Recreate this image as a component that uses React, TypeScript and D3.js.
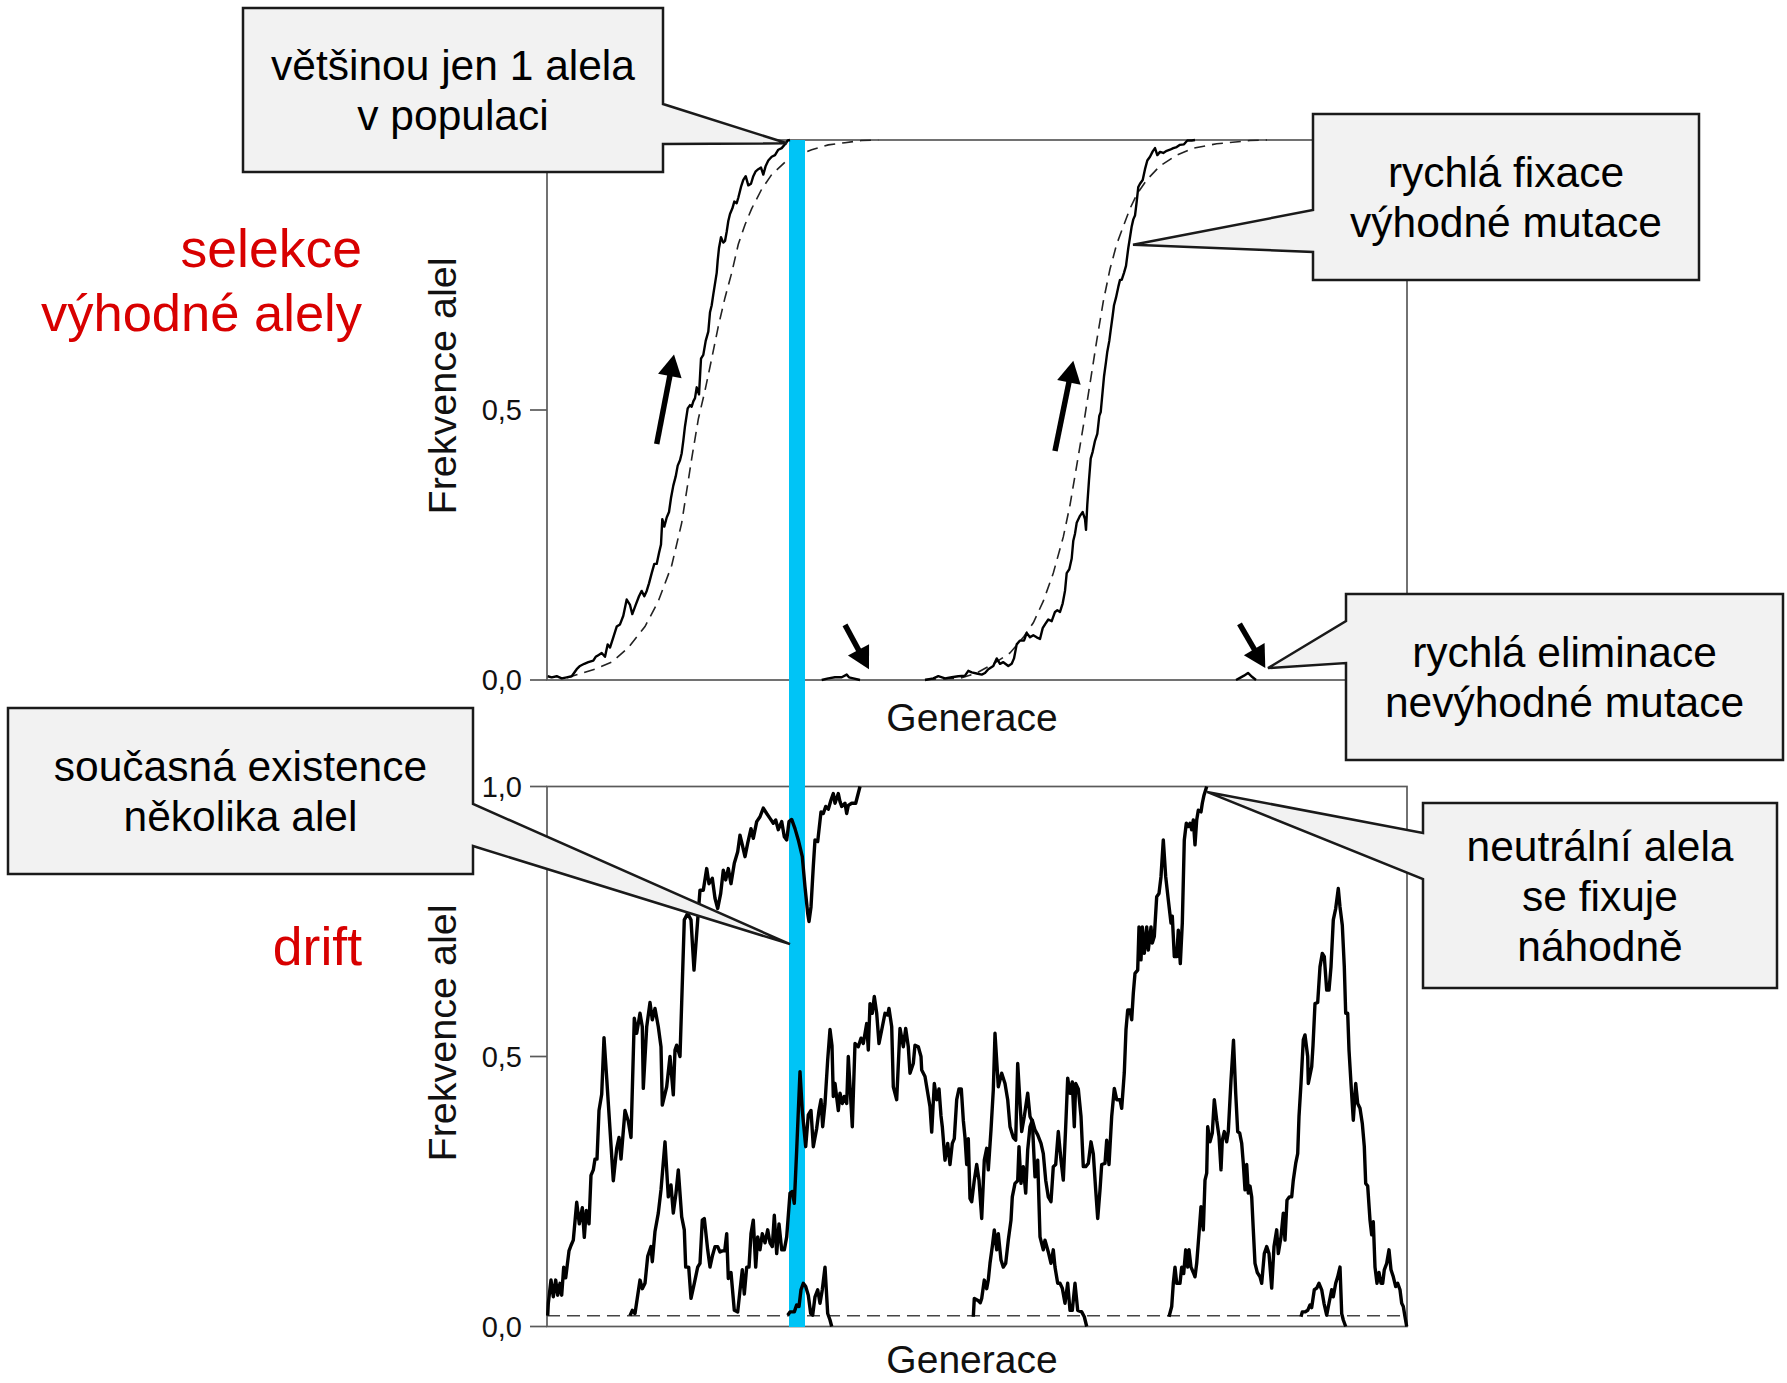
import * as d3 from "d3";

// x = generace (0..860), y = frekvence alely (0..1)
const genDomain: [number, number] = [0, 860];
const freqTicksTop = [0, 0.5];
const freqTicksBottom = [0, 0.5, 1];

// ---- horní panel: selekce výhodné alely ----
const sweepObserved1 = [
  [0.7, 0.007], [4.7, 0.005], [9.7, 0.007], [14.7, 0.003], [19.7, 0.005], [24.7, 0.007], [29.7, 0.02], [33, 0.026],
  [37.3, 0.03], [41.3, 0.033], [46.3, 0.036], [48.7, 0.043], [51.3, 0.046], [54.7, 0.05], [58, 0.043], [60.7, 0.066],
  [63, 0.06], [66.3, 0.079], [69.7, 0.099], [73, 0.103], [76.3, 0.119], [79.7, 0.149], [83, 0.139], [85.3, 0.122],
  [88.7, 0.139], [92, 0.155], [94.7, 0.165], [97.3, 0.155], [99.7, 0.165], [102, 0.179], [104.7, 0.198], [107.3, 0.215],
  [109.7, 0.215], [112, 0.235], [114, 0.251], [115.3, 0.298], [117.3, 0.284], [119.7, 0.301], [122, 0.311], [124, 0.337],
  [126.3, 0.36], [128.7, 0.377], [130.7, 0.397], [133, 0.407], [134.7, 0.42], [136.3, 0.443], [138, 0.47], [140.7, 0.503],
  [143, 0.509], [144.7, 0.506], [146.3, 0.516], [148, 0.522], [149.7, 0.542], [152, 0.529], [154, 0.595], [156.3, 0.602],
  [158.7, 0.628], [161.3, 0.645], [163, 0.681], [164.7, 0.694], [166.3, 0.714], [168, 0.734], [169.7, 0.754], [170.7, 0.777],
  [172, 0.8], [174, 0.82], [176.3, 0.81], [178, 0.813], [179.7, 0.83], [181.3, 0.85], [183, 0.863], [185.3, 0.873],
  [187.3, 0.886], [189.7, 0.883], [191.3, 0.893], [194, 0.913], [196.3, 0.926], [198.7, 0.933], [201.3, 0.916], [204, 0.919],
  [206.3, 0.933], [208.7, 0.942], [211.3, 0.946], [214, 0.949], [216.3, 0.936], [218.7, 0.952], [221.3, 0.962], [224.7, 0.969],
  [228, 0.972], [231.3, 0.982], [234.7, 0.985], [238, 0.992], [240.7, 0.999], [243, 1.0],
];
const sweepExpected1 = [
  [20, 0.004], [24.7, 0.007], [48, 0.02], [64.7, 0.033], [81.3, 0.06], [98, 0.099], [111.3, 0.146], [124.7, 0.212],
  [134.7, 0.291], [144.7, 0.41], [151.3, 0.483], [158, 0.536], [164.7, 0.595], [171.3, 0.655], [178, 0.708], [184.7, 0.754],
  [191.3, 0.807], [198, 0.843], [204.7, 0.873], [214.7, 0.909], [224.7, 0.936], [238, 0.959], [251.3, 0.972], [264.7, 0.982],
  [281.3, 0.991], [298, 0.995], [314.7, 0.999], [331.3, 1.0],
];
const lostMutation1 = [
  [274.7, 0], [281.3, 0.003], [288, 0.005], [294.7, 0.005], [299.7, 0.01], [302, 0.005], [306.3, 0.003], [313, 0],
];
const sweepObserved2 = [
  [378, 0], [386.3, 0.003], [391.3, 0.007], [398, 0.003], [404.7, 0.005], [411.3, 0.007], [418, 0.008], [421.3, 0.017],
  [424.7, 0.014], [429.7, 0.012], [434.7, 0.01], [438, 0.013], [441.3, 0.02], [446.3, 0.026], [449.7, 0.04], [453, 0.03],
  [456.3, 0.033], [461.3, 0.026], [464.7, 0.03], [467, 0.04], [469.7, 0.066], [473, 0.073], [477, 0.073], [479.7, 0.087],
  [483, 0.079], [486.3, 0.083], [489.7, 0.079], [493, 0.076], [495.7, 0.096], [498, 0.103], [501.3, 0.112], [504.7, 0.109],
  [508, 0.126], [510.3, 0.129], [513, 0.126], [515.7, 0.142], [518, 0.165], [519.7, 0.198], [522.3, 0.205], [524.7, 0.225],
  [526.3, 0.258], [528, 0.271], [529.7, 0.291], [533, 0.304], [535.7, 0.311], [538, 0.298], [539, 0.278], [540.3, 0.325],
  [542, 0.37], [543.7, 0.41], [545.7, 0.423], [548, 0.443], [550.3, 0.456], [552.3, 0.489], [553.7, 0.496], [555.7, 0.536],
  [557, 0.562], [559, 0.589], [560.3, 0.608], [562.3, 0.628], [563.7, 0.648], [565.7, 0.675], [567, 0.694], [569, 0.708],
  [571.3, 0.728], [573, 0.741], [574.7, 0.741], [577, 0.754], [579, 0.767], [581.3, 0.8], [583, 0.82], [584.7, 0.84],
  [586.3, 0.853], [588, 0.86], [589.7, 0.886], [591.3, 0.913], [593, 0.919], [595.7, 0.926], [598, 0.946], [600.3, 0.962],
  [603, 0.969], [605.7, 0.979], [608, 0.985], [610.3, 0.972], [613, 0.978], [616.3, 0.976], [619.7, 0.98], [623, 0.982],
  [626.3, 0.985], [629.7, 0.987], [633, 0.991], [637, 0.992], [640.3, 0.999], [644.7, 0.999], [648, 1.0],
];
const sweepExpected2 = [
  [378, 0.001], [413, 0.003], [429.7, 0.013], [446.3, 0.03], [463, 0.05], [476.3, 0.079], [486.3, 0.106], [496.3, 0.146],
  [506.3, 0.198], [516.3, 0.265], [523, 0.324], [529.7, 0.397], [536.3, 0.47], [543, 0.549], [549.7, 0.628], [556.3, 0.701],
  [563, 0.761], [569.7, 0.807], [576.3, 0.84], [583, 0.873], [589.7, 0.899], [599.7, 0.926], [613, 0.952], [629.7, 0.972],
  [646.3, 0.985], [669.7, 0.993], [703, 0.999], [720, 1.0],
];
const lostMutation2 = [
  [689, 0], [693, 0.004], [697, 0.008], [701, 0.013], [705, 0.006], [709, 0],
];

// ---- dolní panel: drift ----
const driftA = [
  [0.7, 0.02], [1.3, 0.043], [4, 0.086], [6.3, 0.055], [8.7, 0.086], [10.7, 0.058], [13, 0.08], [14.7, 0.058],
  [16.7, 0.11], [18.7, 0.09], [22, 0.14], [24, 0.15], [26.3, 0.16], [29.7, 0.23], [32.3, 0.19], [35.3, 0.22],
  [37.3, 0.165], [39.3, 0.215], [42, 0.19], [44, 0.28], [46.3, 0.29], [48, 0.31], [50, 0.31], [52, 0.4],
  [54.7, 0.43], [57, 0.535], [59.7, 0.46], [66.3, 0.27], [69.7, 0.33], [72, 0.35], [74, 0.31], [78, 0.4],
  [81.3, 0.38], [84, 0.35], [87.3, 0.571], [89.7, 0.543], [93, 0.58], [95.3, 0.555], [96.3, 0.441], [99.7, 0.555],
  [103, 0.6], [105.3, 0.568], [108, 0.589], [111.3, 0.555], [114, 0.518], [115.3, 0.41], [119.7, 0.444], [123, 0.5],
  [126.3, 0.429], [128, 0.512], [129.7, 0.521], [133, 0.5], [137.3, 0.753], [140.7, 0.765], [144, 0.753], [147, 0.66],
  [150.7, 0.753], [153, 0.808], [156.3, 0.808], [159.7, 0.848], [162, 0.82], [165.3, 0.83], [168, 0.793], [170.7, 0.774],
  [173.7, 0.802], [176.3, 0.845], [178.7, 0.827], [181.3, 0.848], [184, 0.82], [187.3, 0.858], [190.7, 0.879], [193, 0.91],
  [195.3, 0.892], [198, 0.87], [200.7, 0.895], [204, 0.922], [206.3, 0.904], [209.7, 0.935], [213, 0.944], [216.3, 0.96],
  [219.7, 0.95], [223, 0.941], [226.3, 0.932], [228.7, 0.938], [231.3, 0.92], [234.7, 0.935], [237.3, 0.907], [239.7, 0.901],
  [242, 0.935], [244.7, 0.939], [248, 0.922], [251.3, 0.901], [255.3, 0.87], [258, 0.814], [260.7, 0.765], [262, 0.75],
  [264, 0.777], [266.3, 0.852], [268, 0.901], [270.7, 0.898], [274, 0.953], [276.3, 0.95], [278.7, 0.963], [281.3, 0.958],
  [284, 0.975], [286.3, 0.987], [288, 0.969], [291.3, 0.987], [293, 0.972], [294.7, 0.963], [298, 0.969], [299.7, 0.95],
  [301.3, 0.965], [304.7, 0.969], [308.7, 0.969], [313, 1.0],
];
const driftB = [
  [83, 0.02], [85.3, 0.03], [88, 0.024], [93, 0.086], [95.3, 0.07], [98, 0.08], [100.7, 0.13], [104, 0.148],
  [105.3, 0.12], [108, 0.176], [111.3, 0.21], [114, 0.253], [118, 0.342], [121.3, 0.24], [124, 0.262], [126.3, 0.21],
  [129, 0.247], [131.3, 0.29], [134.7, 0.203], [137.3, 0.179], [138.7, 0.11], [141.7, 0.11], [144, 0.052], [147.3, 0.08],
  [150.7, 0.11], [153, 0.117], [155.3, 0.197], [157.3, 0.2], [160.7, 0.142], [163, 0.11], [165.3, 0.13], [168, 0.148],
  [170.7, 0.148], [173, 0.138], [175.3, 0.14], [177.7, 0.14], [179.7, 0.172], [181.3, 0.089], [184, 0.1], [187.3, 0.03],
  [190.7, 0.027], [193, 0.067], [195.3, 0.105], [197.3, 0.06], [199.7, 0.11], [202, 0.11], [204, 0.172], [206.3, 0.197],
  [208.7, 0.11], [210.7, 0.166], [213, 0.142], [215.3, 0.172], [218, 0.155], [220.7, 0.179], [223, 0.155], [225.3, 0.148],
  [227.3, 0.206], [229.7, 0.135], [232, 0.19], [234.7, 0.142], [237.3, 0.142], [239.7, 0.166], [243, 0.247], [245.3, 0.25],
  [247.3, 0.228], [249.7, 0.327], [253, 0.472], [255.3, 0.4], [258.7, 0.333], [261.3, 0.392], [264, 0.4], [266.3, 0.333],
  [269.7, 0.367], [272, 0.4], [274, 0.42], [275.7, 0.37], [278, 0.413], [280.7, 0.494], [283, 0.55], [285, 0.52],
  [286.3, 0.426], [288, 0.45], [291.3, 0.4], [293, 0.432], [295.3, 0.413], [297.3, 0.426], [299.7, 0.413], [301.3, 0.5],
  [305.3, 0.37], [308, 0.524], [311.3, 0.518], [314, 0.534], [316.3, 0.524], [319.7, 0.561], [321.3, 0.512], [323, 0.598],
  [325.3, 0.58], [327.3, 0.611], [329.7, 0.58], [332, 0.524], [334.7, 0.549], [338, 0.58], [340.7, 0.577], [342, 0.589],
  [344.7, 0.555], [346.3, 0.444], [349.7, 0.42], [353, 0.552], [356.3, 0.518], [358.7, 0.552], [361.3, 0.518], [363, 0.469],
  [366.3, 0.487], [368, 0.521], [371.3, 0.518], [374, 0.5], [374.7, 0.475], [378, 0.463], [383, 0.407], [384.7, 0.36],
  [387.3, 0.45], [389.7, 0.42], [392, 0.44], [394, 0.39], [395.3, 0.37], [398, 0.308], [400.7, 0.339], [403, 0.3],
  [405.3, 0.339], [407.3, 0.348], [409.7, 0.42], [412, 0.44], [414.3, 0.44], [416.3, 0.382], [418, 0.35], [419.7, 0.3],
  [421.3, 0.348], [423, 0.237], [424.7, 0.231], [427.3, 0.271], [429.7, 0.3], [432, 0.271], [434.7, 0.2], [437.3, 0.308],
  [439.7, 0.33], [441.3, 0.29], [444, 0.364], [446.3, 0.438], [448, 0.543], [451.3, 0.444], [454.7, 0.469], [458, 0.45],
  [460.7, 0.42], [463, 0.37], [466.3, 0.35], [468.7, 0.345], [470.7, 0.487], [474.7, 0.361], [477.3, 0.389], [480.7, 0.432],
  [483, 0.389], [485.3, 0.38], [488, 0.277], [490.7, 0.308], [493, 0.166], [496.3, 0.142], [498, 0.16], [501.3, 0.138],
  [504, 0.117], [506.3, 0.142], [508, 0.11], [510.7, 0.08], [513, 0.08], [515.3, 0.071], [518, 0.043], [520.7, 0.08],
  [523, 0.03], [525.3, 0.03], [528, 0.08], [530.7, 0.03], [534.7, 0.027], [537.3, 0.018], [539.7, 0],
];
const driftC = [
  [426.3, 0.018], [427.3, 0.052], [431, 0.048], [433.3, 0.044], [434.7, 0.052], [437.3, 0.086], [439.7, 0.07], [441.3, 0.086],
  [443, 0.117], [445.3, 0.148], [447.3, 0.179], [449.7, 0.142], [451.3, 0.172], [454, 0.123], [456.3, 0.11], [458.7, 0.117],
  [461.3, 0.16], [464, 0.197], [465.3, 0.24], [468, 0.265], [470.7, 0.27], [472, 0.333], [474, 0.265], [476.3, 0.296],
  [478.7, 0.247], [480.7, 0.327], [483, 0.37], [485.3, 0.382], [488, 0.364], [490.7, 0.355], [494, 0.339], [496.3, 0.32],
  [498.7, 0.271], [501.3, 0.24], [504, 0.231], [506.3, 0.296], [508.7, 0.3], [511.3, 0.361], [514, 0.308], [516.3, 0.271],
  [518.7, 0.37], [520.7, 0.46], [523, 0.432], [525.3, 0.453], [527.3, 0.37], [528.7, 0.45], [531.3, 0.44], [534, 0.389],
  [536.3, 0.296], [538.7, 0.296], [541.3, 0.302], [544, 0.342], [546.3, 0.32], [548.7, 0.253], [550.7, 0.2], [553, 0.253],
  [554.7, 0.3], [558, 0.302], [559.7, 0.345], [562, 0.3], [564.7, 0.389], [567.3, 0.441], [569.7, 0.42], [573, 0.42],
  [574.7, 0.404], [577.3, 0.47], [579, 0.55], [580.7, 0.586], [583, 0.586], [584.7, 0.568], [586.3, 0.617], [588, 0.654],
  [590.7, 0.66], [592, 0.74], [594, 0.679], [595.3, 0.74], [597.3, 0.691], [599.7, 0.74], [601.3, 0.697], [604, 0.74],
  [605.3, 0.71], [607.3, 0.722], [609.7, 0.796], [612, 0.802], [614, 0.833], [616.3, 0.901], [618.7, 0.833], [621.3, 0.79],
  [624, 0.747], [625.3, 0.76], [627.3, 0.685], [629.7, 0.685], [631.3, 0.734], [633.3, 0.672], [635.3, 0.747], [637.3, 0.901],
  [639.3, 0.932], [641.3, 0.926], [643, 0.932], [644.7, 0.92], [646.3, 0.938], [648, 0.892], [649.7, 0.938], [651.3, 0.956],
  [654, 0.953], [655.3, 0.969], [657, 0.984], [659.7, 1.0],
];
const driftD = [
  [622, 0.018], [624.7, 0.037], [626.3, 0.08], [628, 0.11], [629.7, 0.08], [633, 0.08], [634.7, 0.11], [636.7, 0.098],
  [638.7, 0.142], [640.7, 0.11], [642, 0.142], [644, 0.11], [646.3, 0.1], [648, 0.092], [649.7, 0.117], [652, 0.172],
  [654, 0.222], [656.3, 0.179], [658, 0.271], [659.7, 0.284], [660.7, 0.37], [663, 0.342], [665.3, 0.358], [667.3, 0.42],
  [669.7, 0.382], [672, 0.352], [674, 0.29], [675.3, 0.345], [677.3, 0.361], [679.7, 0.342], [681.3, 0.361], [684, 0.456],
  [686.5, 0.53], [688.7, 0.432], [690.7, 0.361], [692.7, 0.358], [694.7, 0.339], [696.3, 0.302], [698, 0.253], [699.7, 0.3],
  [701.3, 0.247], [703, 0.26], [704.7, 0.24], [706.3, 0.179], [708, 0.117], [710.3, 0.1], [713, 0.092], [714.7, 0.08],
  [717.3, 0.135], [719.7, 0.148], [722, 0.135], [724.7, 0.071], [727, 0.148], [729.7, 0.179], [731.3, 0.135], [734, 0.166],
  [736.3, 0.21], [738, 0.16], [740, 0.234], [742.3, 0.24], [744.7, 0.24], [746.3, 0.271], [748.7, 0.302], [750.7, 0.32],
  [752, 0.389], [754, 0.45], [756.3, 0.531], [758, 0.54], [760.7, 0.5], [761.3, 0.45], [764.7, 0.481], [766, 0.52],
  [768, 0.598], [770.7, 0.6], [773, 0.666], [775.3, 0.691], [777.3, 0.685], [779.7, 0.623], [782, 0.623], [784, 0.666],
  [786.3, 0.753], [788.7, 0.774], [791.3, 0.811], [793, 0.777], [795.3, 0.743], [797.3, 0.666], [798.7, 0.58], [800.7, 0.58],
  [802, 0.512], [804, 0.45], [806.3, 0.382], [808.7, 0.45], [810.7, 0.413], [813, 0.404], [815.3, 0.376], [817.3, 0.333],
  [818.7, 0.265], [820.7, 0.26], [823, 0.197], [824.7, 0.17], [826.3, 0.194], [828, 0.11], [830, 0.08], [832, 0.1],
  [834, 0.08], [835.7, 0.08], [837.3, 0.105], [839.7, 0.117], [842, 0.142], [844, 0.105], [846.3, 0.092], [848.7, 0.074],
  [850.7, 0.08], [853, 0.068], [854.7, 0.043], [856.3, 0.037], [858, 0.018], [859.7, 0],
];
const driftE = [
  [754, 0.018], [755.3, 0.027], [758, 0.027], [760.7, 0.03], [763, 0.04], [764.7, 0.035], [767.3, 0.068], [769.7, 0.071],
  [772, 0.08], [774.7, 0.068], [777, 0.043], [779.7, 0.021], [782, 0.043], [784.7, 0.068], [786.3, 0.055], [788.7, 0.08],
  [790.7, 0.092], [793, 0.11], [794.7, 0.024], [796.3, 0.012], [798.7, 0],
];
const driftF = [
  [240.7, 0.021], [243, 0.027], [247.3, 0.027], [249.7, 0.04], [252, 0.037], [254, 0.068], [256.3, 0.08], [258.7, 0.074],
  [261.3, 0.058], [263.7, 0.024], [265.7, 0.021], [268, 0.055], [270.7, 0.068], [273, 0.043], [275.3, 0.068], [278, 0.11],
  [280.7, 0.024], [283, 0.012], [284.7, 0],
];
const newMutationLevel = 0.02;

// zvýrazněná generace (modrý pruh)
const highlightGens = [242, 258];

// šipky: [generace, frekvence] konce a hrotu
const arrowsTop = [
  { from: [109.7, 0.437], to: [127, 0.603] },
  { from: [508, 0.424], to: [526.3, 0.591] },
  { from: [298, 0.102], to: [322, 0.02] },
  { from: [692.5, 0.104], to: [718.3, 0.022] },
];

const FONT = "'Liberation Sans', Arial, Helvetica, sans-serif";
const fmt = (v: number) => v.toFixed(1).replace(".", ",");

const x = d3.scaleLinear().domain(genDomain).range([547, 1407]);
const yTop = d3.scaleLinear().domain([0, 1]).range([680, 140]);
const yBot = d3.scaleLinear().domain([0, 1]).range([1326.5, 786.5]);

const lineTop = d3.line<number[]>().x((d) => x(d[0])).y((d) => yTop(d[1]));
const lineBot = d3.line<number[]>().x((d) => x(d[0])).y((d) => yBot(d[1]));

// bubliny s popisky (rozložení v pixelech, hrot přes škály)
const callouts = [
  { lines: ["většinou jen 1 alela", "v populaci"], box: [243, 8, 663, 172], side: "right", base: [104, 144], tip: [x(240), yTop(0.994)] },
  { lines: ["rychlá fixace", "výhodné mutace"], box: [1313, 114, 1699, 280], side: "left", base: [210, 252], tip: [x(586), yTop(0.806)] },
  { lines: ["rychlá eliminace", "nevýhodné mutace"], box: [1346, 594, 1783, 760], side: "left", base: [621, 663], tip: [x(721), yTop(0.022)] },
  { lines: ["současná existence", "několika alel"], box: [8, 708, 473, 874], side: "right", base: [804, 846], tip: [x(243), yBot(0.708)] },
  { lines: ["neutrální alela", "se fixuje", "náhodně"], box: [1423, 803, 1777, 988], side: "left", base: [833, 879], tip: [x(660), yBot(0.99)] },
];

function calloutPath(c: any) {
  const [x0, y0, x1, y1] = c.box;
  const [b0, b1] = c.base;
  const [tx, ty] = c.tip;
  const pts =
    c.side === "right"
      ? [[x0, y0], [x1, y0], [x1, b0], [tx, ty], [x1, b1], [x1, y1], [x0, y1]]
      : [[x0, y0], [x1, y0], [x1, y1], [x0, y1], [x0, b1], [tx, ty], [x0, b0]];
  return "M" + pts.map((p) => p.join(",")).join("L") + "Z";
}

function Arrow({ from, to, y }: any) {
  const x0 = x(from[0]), y0 = y(from[1]);
  const x1 = x(to[0]), y1 = y(to[1]);
  const len = Math.hypot(x1 - x0, y1 - y0);
  const ux = (x1 - x0) / len, uy = (y1 - y0) / len;
  const hl = 22, hw = 12;
  const bx = x1 - ux * hl, by = y1 - uy * hl;
  const head = [
    [x1, y1],
    [bx - uy * hw, by + ux * hw],
    [bx + uy * hw, by - ux * hw],
  ];
  return (
    <g>
      <line x1={x0} y1={y0} x2={bx + ux * 2} y2={by + uy * 2} stroke="#000" strokeWidth={5.5} />
      <polygon points={head.map((p) => p.join(",")).join(" ")} fill="#000" />
    </g>
  );
}

function Panel({ y, top, bottom, ticks }: any) {
  return (
    <g>
      <rect x={547} y={top} width={860} height={bottom - top} fill="none" stroke="#5a5a5a" strokeWidth={1.7} />
      {ticks.map((t: number) => (
        <g key={t}>
          <line x1={530} x2={547} y1={y(t)} y2={y(t)} stroke="#5a5a5a" strokeWidth={1.7} />
          <text x={522} y={y(t)} dy="0.36em" textAnchor="end" fontSize={29} fontFamily={FONT} fill="#111">
            {fmt(t)}
          </text>
        </g>
      ))}
    </g>
  );
}

export default function App() {
  return (
    <svg
      width={1787}
      height={1383}
      viewBox="0 0 1787 1383"
      style={{ position: "absolute", left: 0, top: 0, background: "#fff" }}
    >
      <rect width={1787} height={1383} fill="#fff" />

      <Panel y={yTop} top={140} bottom={680} ticks={freqTicksTop} />
      <Panel y={yBot} top={786.5} bottom={1326.5} ticks={freqTicksBottom} />

      {/* popisky os */}
      <text x={972} y={731} textAnchor="middle" fontSize={39} fontFamily={FONT} fill="#111">Generace</text>
      <text x={972} y={1373} textAnchor="middle" fontSize={39} fontFamily={FONT} fill="#111">Generace</text>
      <text transform="translate(456,386) rotate(-90)" textAnchor="middle" fontSize={39.5} fontFamily={FONT} fill="#111">
        Frekvence alel
      </text>
      <text transform="translate(456,1033) rotate(-90)" textAnchor="middle" fontSize={39.5} fontFamily={FONT} fill="#111">
        Frekvence alel
      </text>

      {/* očekávané (deterministické) průběhy */}
      <g fill="none" stroke="#222" strokeWidth={1.6} strokeDasharray="11,7">
        <path d={lineTop(sweepExpected1) || ""} />
        <path d={lineTop(sweepExpected2) || ""} />
        <line x1={x(0)} x2={x(860)} y1={yBot(newMutationLevel)} y2={yBot(newMutationLevel)} stroke="#444" strokeDasharray="13,7" />
      </g>

      {/* modrý pruh */}
      <rect x={x(highlightGens[0])} y={140} width={x(highlightGens[1]) - x(highlightGens[0])} height={1327 - 140} fill="#00C4F6" />

      {/* simulované trajektorie */}
      <g fill="none" stroke="#000" strokeWidth={2.4} strokeLinejoin="round">
        <path d={lineTop(sweepObserved1) || ""} />
        <path d={lineTop(sweepObserved2) || ""} />
        <path d={lineTop(lostMutation1) || ""} />
        <path d={lineTop(lostMutation2) || ""} />
      </g>
      <g fill="none" stroke="#000" strokeWidth={3.4} strokeLinejoin="round">
        {[driftA, driftB, driftC, driftD, driftE, driftF].map((s, i) => (
          <path key={i} d={lineBot(s) || ""} />
        ))}
      </g>

      {arrowsTop.map((a, i) => (
        <Arrow key={i} from={a.from} to={a.to} y={yTop} />
      ))}

      {/* bubliny */}
      {callouts.map((c, i) => {
        const cx = (c.box[0] + c.box[2]) / 2;
        const cy = (c.box[1] + c.box[3]) / 2;
        const n = c.lines.length;
        return (
          <g key={i}>
            <path d={calloutPath(c)} fill="#f2f2f2" stroke="#1a1a1a" strokeWidth={2.5} strokeLinejoin="miter" />
            {c.lines.map((t, j) => (
              <text
                key={j}
                x={cx}
                y={cy + (j - (n - 1) / 2) * 50 + 15}
                textAnchor="middle"
                fontSize={42.5}
                fontFamily={FONT}
                fill="#000"
              >
                {t}
              </text>
            ))}
          </g>
        );
      })}

      {/* červené nadpisy */}
      <g fontFamily={FONT} fill="#d80000" textAnchor="end">
        <text x={362} y={267} fontSize={53.5}>selekce</text>
        <text x={362} y={331} fontSize={52.5}>výhodné alely</text>
        <text x={362} y={965} fontSize={53.5}>drift</text>
      </g>
    </svg>
  );
}
